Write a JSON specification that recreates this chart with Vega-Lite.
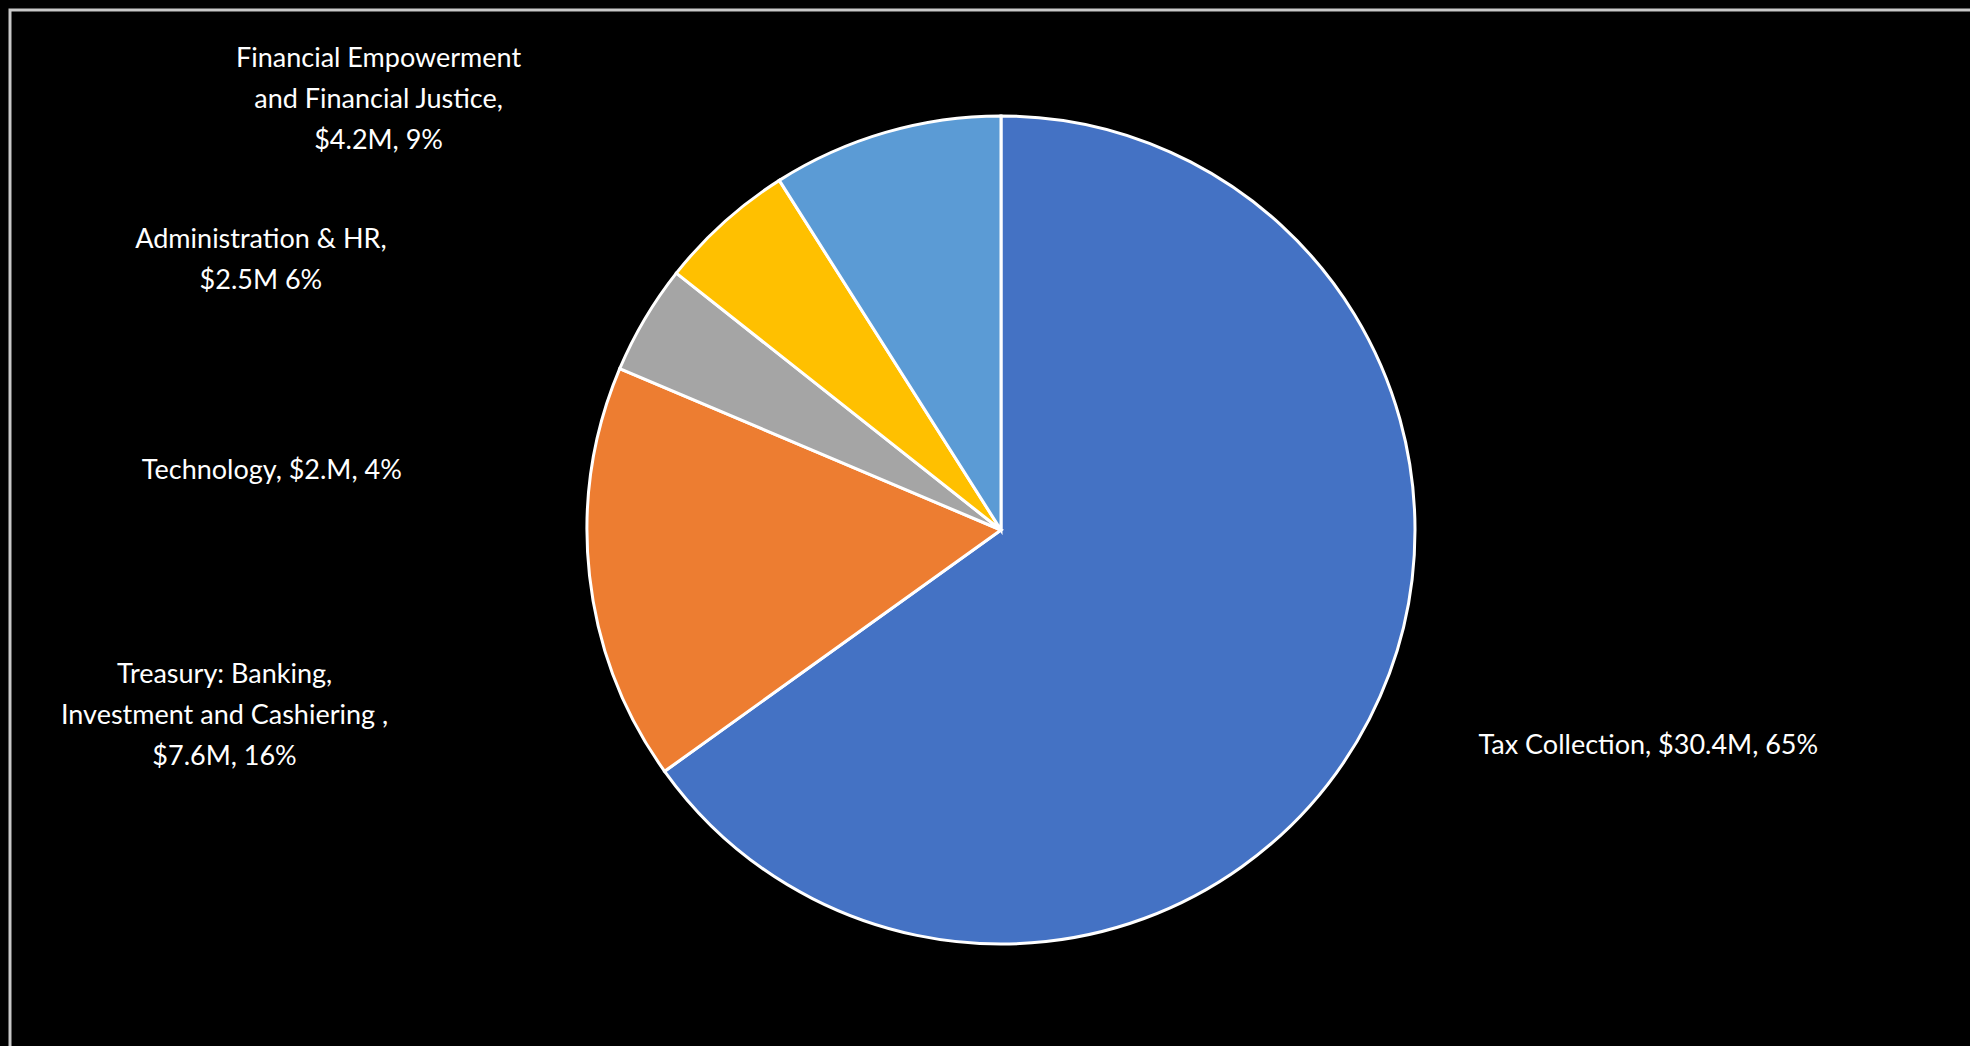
{
  "$schema": "https://vega.github.io/schema/vega-lite/v6.json",
  "autosize": {"type": "fit", "contains": "padding"},
  "width": 1970,
  "height": 1046,
  "padding": {"left": 10, "top": 10, "right": -22, "bottom": -4},
  "background": "#000000",
  "view": {"stroke": "#C8C8C8", "strokeWidth": 3, "fill": "#000000"},
  "config": {
    "view": {"stroke": "#C8C8C8", "strokeWidth": 3},
    "text": {"font": "Lato", "fontSize": 27, "color": "#FFFFFF", "lineHeight": 41}
  },
  "data": {
    "values": [
      {"name": "Tax Collection", "amount": 30.4, "seq": 1, "label": "Tax Collection, $30.4M, 65%"},
      {"name": "Treasury", "amount": 7.6, "seq": 2, "label": "Treasury: Banking,\nInvestment and Cashiering ,\n$7.6M, 16%"},
      {"name": "Technology", "amount": 2.0, "seq": 3, "label": "Technology, $2.M, 4%"},
      {"name": "Administration & HR", "amount": 2.5, "seq": 4, "label": "Administration & HR,\n$2.5M 6%"},
      {"name": "Financial Empowerment", "amount": 4.2, "seq": 5, "label": "Financial Empowerment\nand Financial Justice,\n$4.2M, 9%"}
    ]
  },
  "encoding": {
    "theta": {"field": "amount", "type": "quantitative", "stack": true},
    "order": {"field": "seq", "type": "quantitative"},
    "color": {
      "field": "name",
      "type": "nominal",
      "legend": null,
      "scale": {
        "domain": ["Tax Collection", "Treasury", "Technology", "Administration & HR", "Financial Empowerment"],
        "range": ["#4472C4", "#ED7D31", "#A5A5A5", "#FFC000", "#5B9BD5"]
      }
    }
  },
  "layer": [
    {"mark": {"type": "arc", "outerRadius": 414, "stroke": "#FFFFFF", "strokeWidth": 3}},
    {
      "mark": {"type": "text", "radius": 414, "dx": 279, "dy": 27, "align": "center", "baseline": "middle", "lineBreak": "\n", "fill": "#FFFFFF"},
      "encoding": {"text": {"condition": {"test": "datum.name === 'Tax Collection'", "field": "label"}, "value": ""}}
    },
    {
      "mark": {"type": "text", "radius": 414, "dx": -365, "dy": 99, "align": "center", "baseline": "middle", "lineBreak": "\n", "fill": "#FFFFFF"},
      "encoding": {"text": {"condition": {"test": "datum.name === 'Treasury'", "field": "label"}, "value": ""}}
    },
    {
      "mark": {"type": "text", "radius": 414, "dx": -373, "dy": 152, "align": "center", "baseline": "middle", "lineBreak": "\n", "fill": "#FFFFFF"},
      "encoding": {"text": {"condition": {"test": "datum.name === 'Technology'", "field": "label"}, "value": ""}}
    },
    {
      "mark": {"type": "text", "radius": 414, "dx": -463, "dy": 18, "align": "center", "baseline": "middle", "lineBreak": "\n", "fill": "#FFFFFF"},
      "encoding": {"text": {"condition": {"test": "datum.name === 'Administration & HR'", "field": "label"}, "value": ""}}
    },
    {
      "mark": {"type": "text", "radius": 414, "dx": -507, "dy": -73, "align": "center", "baseline": "middle", "lineBreak": "\n", "fill": "#FFFFFF"},
      "encoding": {"text": {"condition": {"test": "datum.name === 'Financial Empowerment'", "field": "label"}, "value": ""}}
    }
  ]
}
